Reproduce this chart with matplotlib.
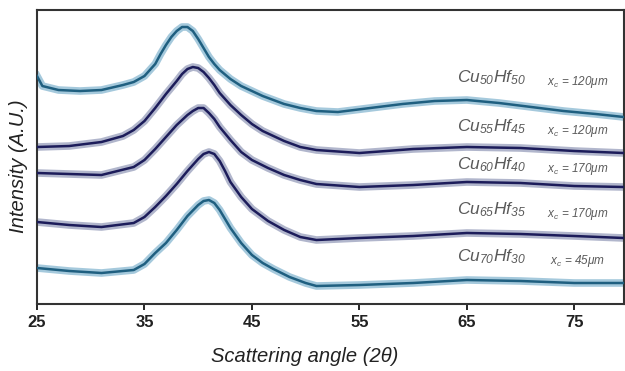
import matplotlib.pyplot as plt

plt.rcParams['font.family'] = ['Liberation Sans', 'DejaVu Sans']
plt.rcParams['mathtext.fontset'] = 'custom'
plt.rcParams['mathtext.rm'] = 'Liberation Sans:italic'
plt.rcParams['mathtext.it'] = 'Liberation Sans:italic'

# 2-theta positions (deg) and stacked intensities (A.U., offset already applied)
theta_50 = [25, 25.5, 27, 29, 31, 33, 34, 35, 35.5, 36, 36.5, 37, 37.5, 38, 38.5, 39, 39.5, 40, 40.5,
            41, 41.5, 42, 43, 44, 45, 46, 47, 48, 49.5, 51, 53, 56, 59, 62, 65, 68, 71, 74, 77, 79.6]
cu50 = [228, 218, 214, 213, 214, 219, 222, 228, 234, 240, 250, 259, 267, 273, 277, 277, 273, 265, 256,
        247, 240, 234, 225, 218, 213, 208, 204, 200, 196, 193, 192, 196, 200, 203, 204, 201, 197, 193, 190, 187]

theta_55 = [25, 28, 31, 33, 34, 35, 36, 37, 38, 38.5, 39, 39.5, 40, 40.5, 41, 41.5, 42, 43, 44, 45,
            46, 48, 49.5, 51, 55, 60, 65, 70, 75, 79.6]
cu55 = [157, 158, 162, 168, 174, 183, 196, 210, 223, 230, 235, 237, 236, 232, 226, 219, 211, 199, 189, 180,
        173, 163, 157, 154, 151, 155, 157, 156, 153, 151]

theta_60 = [25, 28, 31, 34, 35, 36, 37, 38, 39, 39.5, 40, 40.5, 41, 41.5, 42, 43, 44, 45, 46.5, 48,
            49.5, 51, 55, 60, 65, 70, 75, 79.6]
cu60 = [131, 130, 129, 137, 144, 155, 167, 179, 189, 193, 196, 196, 191, 185, 177, 164, 152, 144, 136, 129,
        124, 120, 117, 119, 122, 121, 118, 117]

theta_65 = [25, 28, 31, 34, 35, 36, 37, 38, 39, 40, 40.5, 41, 41.5, 42, 42.5, 43, 44, 45, 46.5, 48,
            49.5, 51, 55, 60, 65, 70, 75, 79.6]
cu65 = [82, 79, 77, 81, 87, 97, 108, 120, 133, 145, 150, 152, 150, 143, 133, 122, 107, 95, 83, 74,
        67, 64, 66, 68, 71, 70, 68, 66]

theta_70 = [25, 28, 31, 34, 35, 36, 37, 38, 39, 40, 40.5, 41, 41.5, 42, 42.5, 43, 44, 45, 46, 47,
            48.5, 50, 51, 55, 60, 65, 70, 75, 79.6]
cu70 = [36, 33, 31, 34, 40, 51, 61, 74, 88, 99, 103, 104, 101, 94, 85, 76, 61, 49, 41, 35,
        27, 21, 18, 19, 21, 24, 23, 21, 21]

labels = [r'$Cu_{50}Hf_{50}$', r'$Cu_{55}Hf_{45}$', r'$Cu_{60}Hf_{40}$',
          r'$Cu_{65}Hf_{35}$', r'$Cu_{70}Hf_{30}$']
xc_labels = [r'$x_c$ = 120μm', r'$x_c$ = 120μm', r'$x_c$ = 170μm',
             r'$x_c$ = 170μm', r'$x_c$ = 45μm']
label_y = [226, 177, 139, 94, 47]

series = [(theta_50, cu50), (theta_55, cu55), (theta_60, cu60), (theta_65, cu65), (theta_70, cu70)]
core_colors = ['#1f5f80', '#1c1c5a', '#1c1c5a', '#1c1c5a', '#1f5f80']
halo_colors = ['#6aa6c6', '#7e86aa', '#7e86aa', '#7e86aa', '#6aa6c6']

fig = plt.figure(figsize=(6.25, 3.71), dpi=100)
fig.patch.set_facecolor('white')
ax = fig.add_axes([0.0592, 0.1806, 0.9388, 0.7924])

for (tx, ty), cc, hc in zip(series, core_colors, halo_colors):
    ax.plot(tx, ty, color=hc, lw=5.5, alpha=0.6, solid_joinstyle='round', zorder=2)
    ax.plot(tx, ty, color=cc, lw=1.8, solid_joinstyle='round', zorder=3)

for lab, xl, ly in zip(labels, xc_labels, label_y):
    ax.text(67.3, ly, lab, fontsize=12.5, color='#5a5a5a', ha='center', va='center', zorder=4)
    ax.text(75.3, ly - 4, xl, fontsize=8.5, color='#5a5a5a', style='italic',
            ha='center', va='center', zorder=4)

ax.set_xlim(25, 79.6)
ax.set_ylim(0, 294)
ax.set_xticks([25, 35, 45, 55, 65, 75])
ax.set_yticks([])
ax.tick_params(axis='x', direction='out', length=4, width=1.2, labelsize=12, pad=4)
for t in ax.get_xticklabels():
    t.set_fontweight('bold')
    t.set_color('#222222')
for s in ax.spines.values():
    s.set_linewidth(1.5)
    s.set_color('#333333')

ax.set_xlabel('Scattering angle (2θ)', fontsize=14.5, style='italic', color='#222222')
ax.xaxis.set_label_coords(0.457, -0.145)
ax.set_ylabel('Intensity (A.U.)', fontsize=14.5, style='italic', color='#222222')
ax.yaxis.set_label_coords(-0.015, 0.47)

fig.savefig('out.png', dpi=100)
